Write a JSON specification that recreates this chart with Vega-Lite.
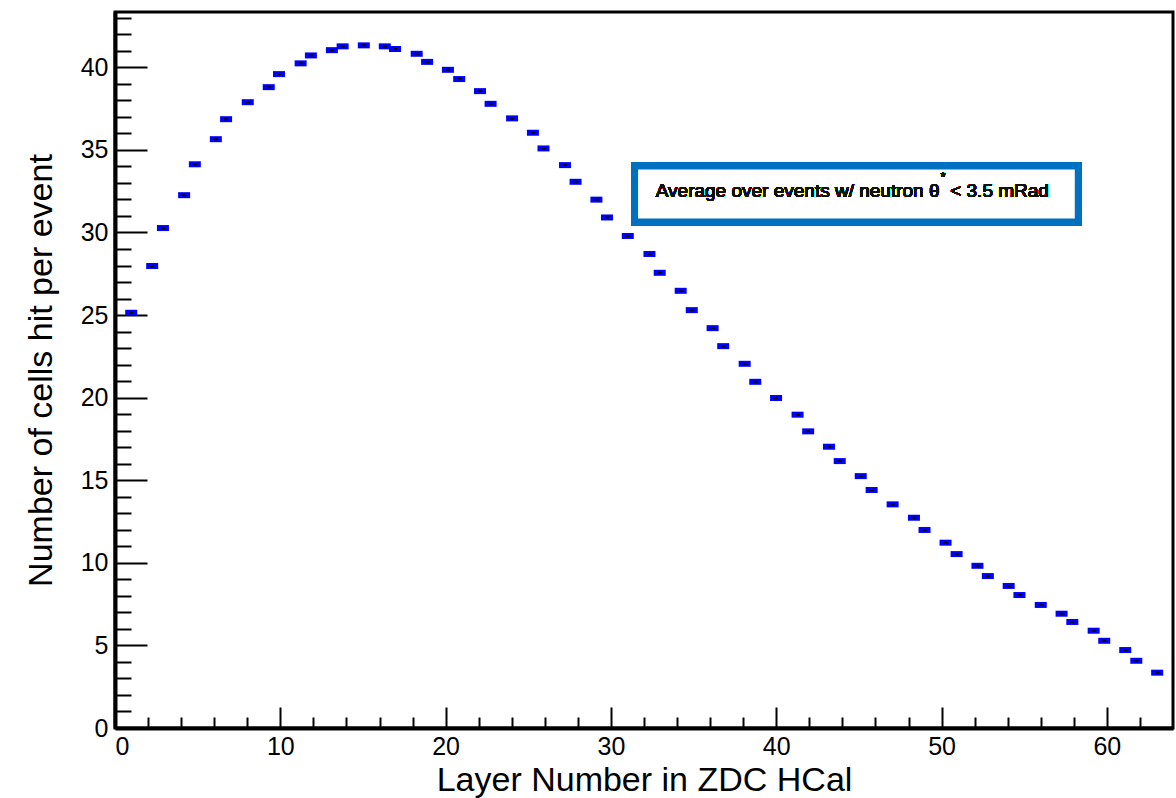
{
  "$schema": "https://vega.github.io/schema/vega-lite/v6.json",
  "width": 1058,
  "height": 716,
  "autosize": {"type": "none"},
  "padding": {"left": 115, "top": 12, "right": 3, "bottom": 70},
  "background": "white",
  "config": {
    "view": {"stroke": "black", "strokeWidth": 3},
    "font": "Liberation Sans",
    "axis": {"grid": false, "labelFont": "Liberation Sans", "titleFont": "Liberation Sans", "labelColor": "black", "titleColor": "black", "tickColor": "black", "domainColor": "black"}
  },
  "data": {
    "values": [
      {"layer": 0.98, "cells": 25.14},
      {"layer": 2.25, "cells": 27.97},
      {"layer": 2.90, "cells": 30.27},
      {"layer": 4.18, "cells": 32.26},
      {"layer": 4.83, "cells": 34.13},
      {"layer": 6.10, "cells": 35.65},
      {"layer": 6.72, "cells": 36.86},
      {"layer": 8.03, "cells": 37.89},
      {"layer": 9.30, "cells": 38.80},
      {"layer": 9.92, "cells": 39.59},
      {"layer": 11.23, "cells": 40.24},
      {"layer": 11.85, "cells": 40.72},
      {"layer": 13.12, "cells": 41.04},
      {"layer": 13.77, "cells": 41.27},
      {"layer": 15.05, "cells": 41.33},
      {"layer": 16.32, "cells": 41.27},
      {"layer": 16.94, "cells": 41.11},
      {"layer": 18.25, "cells": 40.82},
      {"layer": 18.88, "cells": 40.33},
      {"layer": 20.14, "cells": 39.85},
      {"layer": 20.82, "cells": 39.29},
      {"layer": 22.08, "cells": 38.56},
      {"layer": 22.72, "cells": 37.79},
      {"layer": 24.02, "cells": 36.91},
      {"layer": 25.28, "cells": 36.04},
      {"layer": 25.92, "cells": 35.09},
      {"layer": 27.22, "cells": 34.08},
      {"layer": 27.86, "cells": 33.07},
      {"layer": 29.12, "cells": 31.99},
      {"layer": 29.76, "cells": 30.91},
      {"layer": 31.02, "cells": 29.79},
      {"layer": 32.33, "cells": 28.70},
      {"layer": 32.95, "cells": 27.56},
      {"layer": 34.22, "cells": 26.47},
      {"layer": 34.89, "cells": 25.30},
      {"layer": 36.15, "cells": 24.21},
      {"layer": 36.79, "cells": 23.12},
      {"layer": 38.09, "cells": 22.05},
      {"layer": 38.73, "cells": 20.96},
      {"layer": 39.99, "cells": 19.98},
      {"layer": 41.29, "cells": 18.97},
      {"layer": 41.93, "cells": 17.96},
      {"layer": 43.19, "cells": 17.03},
      {"layer": 43.84, "cells": 16.16},
      {"layer": 45.11, "cells": 15.25},
      {"layer": 45.77, "cells": 14.41},
      {"layer": 47.04, "cells": 13.54},
      {"layer": 48.33, "cells": 12.73},
      {"layer": 48.97, "cells": 11.99},
      {"layer": 50.24, "cells": 11.22},
      {"layer": 50.91, "cells": 10.53},
      {"layer": 52.17, "cells": 9.82},
      {"layer": 52.80, "cells": 9.20},
      {"layer": 54.06, "cells": 8.60},
      {"layer": 54.71, "cells": 8.05},
      {"layer": 56.00, "cells": 7.45},
      {"layer": 57.26, "cells": 6.92},
      {"layer": 57.91, "cells": 6.42},
      {"layer": 59.20, "cells": 5.89},
      {"layer": 59.84, "cells": 5.28},
      {"layer": 61.11, "cells": 4.72},
      {"layer": 61.78, "cells": 4.07},
      {"layer": 63.04, "cells": 3.35}
    ]
  },
  "resolve": {"axis": {"x": "independent", "y": "independent"}},
  "layer": [
    {
      "mark": {"type": "point", "shape": "M-1,-0.5L1,-0.5L1,0.5L-1,0.5Z", "size": 144, "filled": true, "color": "#0000ff", "opacity": 1, "strokeWidth": 0},
      "encoding": {
        "x": {"field": "layer", "type": "quantitative", "scale": {"domain": [0, 64], "nice": false, "zero": false},
          "axis": {"orient": "bottom", "values": [2,4,6,8,12,14,16,18,22,24,26,28,32,34,36,38,42,44,46,48,52,54,56,58,62], "tickSize": -11, "tickWidth": 2, "labels": false, "domain": false, "title": null}},
        "y": {"field": "cells", "type": "quantitative", "scale": {"domain": [0, 43.35], "nice": false, "zero": false},
          "axis": {"orient": "left", "values": [1,2,3,4,6,7,8,9,11,12,13,14,16,17,18,19,21,22,23,24,26,27,28,29,31,32,33,34,36,37,38,39,41,42,43], "tickSize": -16, "tickWidth": 2, "labels": false, "domain": false, "title": null}}
      }
    },
    {
      "mark": {"type": "point", "shape": "M-1,-0.5L1,-0.5L1,0.5L-1,0.5Z", "size": 16, "filled": true, "color": "black", "opacity": 1, "strokeWidth": 0},
      "encoding": {
        "x": {"field": "layer", "type": "quantitative",
          "axis": {"orient": "bottom", "values": [0,10,20,30,40,50,60], "tickSize": -21, "tickWidth": 2, "labels": false, "domain": false, "title": null}},
        "y": {"field": "cells", "type": "quantitative",
          "axis": {"orient": "left", "values": [0,5,10,15,20,25,30,35,40], "tickSize": -32, "tickWidth": 2, "labels": false, "domain": false, "title": null}}
      }
    },
    {
      "mark": {"type": "rect", "fill": "white", "stroke": "#0070c0", "strokeWidth": 7},
      "encoding": {
        "x": {"datum": 31.43, "type": "quantitative",
          "axis": {"orient": "bottom", "values": [0,10,20,30,40,50,60], "ticks": false, "labelPadding": 6, "labelFontSize": 25, "format": "d", "domain": true, "domainWidth": 4,
            "title": "Layer Number in ZDC HCal", "titleFontSize": 34, "titleFontWeight": "normal", "titlePadding": 4}},
        "x2": {"datum": 58.27},
        "y": {"datum": 34.03, "type": "quantitative",
          "axis": {"orient": "left", "values": [0,5,10,15,20,25,30,35,40], "ticks": false, "labelPadding": 7, "labelFontSize": 25, "format": "d", "domain": true, "domainWidth": 4,
            "title": "Number of cells hit per event", "titleFontSize": 34, "titleFontWeight": "normal", "titlePadding": 22}},
        "y2": {"datum": 30.63}
      }
    },
    {
      "mark": {"type": "text", "text": "Average over events w/ neutron θ", "align": "left", "baseline": "alphabetic", "fontSize": 19, "fontWeight": "normal", "fill": "#111111", "font": "Liberation Sans"},
      "encoding": {
        "x": {"datum": 32.71, "type": "quantitative", "axis": null},
        "y": {"datum": 32.16, "type": "quantitative", "axis": null}
      }
    },
    {
      "mark": {"type": "text", "text": "*", "align": "left", "baseline": "top", "fontSize": 13, "fontWeight": "normal", "fill": "#111111", "font": "Liberation Sans"},
      "encoding": {
        "x": {"datum": 49.94, "type": "quantitative", "axis": null},
        "y": {"datum": 33.72, "type": "quantitative", "axis": null}
      }
    },
    {
      "mark": {"type": "text", "text": "< 3.5 mRad", "align": "left", "baseline": "alphabetic", "fontSize": 19, "fontWeight": "normal", "fill": "#111111", "font": "Liberation Sans"},
      "encoding": {
        "x": {"datum": 50.52, "type": "quantitative", "axis": null},
        "y": {"datum": 32.16, "type": "quantitative", "axis": null}
      }
    }
  ]
}
